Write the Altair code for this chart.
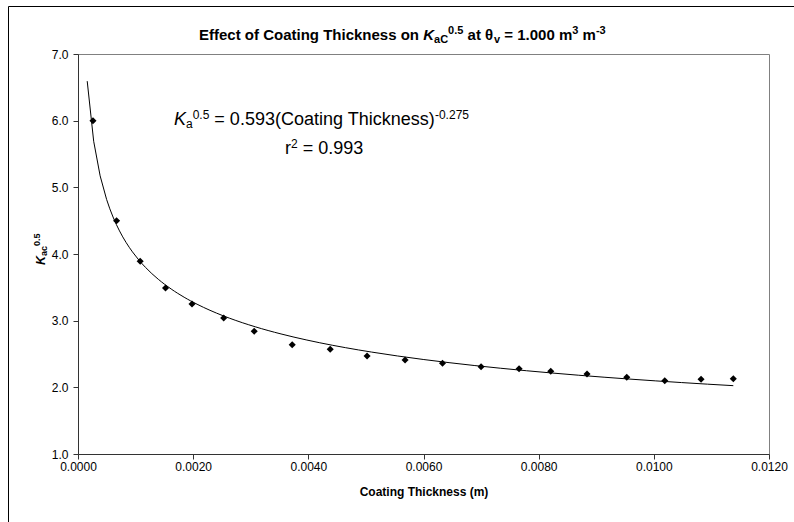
import altair as alt
import pandas as pd

# ---- data ----
coating_thickness_m = [0.00026, 0.00067, 0.00108, 0.00152, 0.00198, 0.00253, 0.00306,
                       0.00372, 0.00438, 0.00502, 0.00568, 0.00633, 0.00700, 0.00766,
                       0.00821, 0.00884, 0.00953, 0.01019, 0.01082, 0.01138]
k_ac_05 = [6.00, 4.50, 3.89, 3.49, 3.25, 3.04, 2.84, 2.64, 2.57, 2.47,
           2.41, 2.36, 2.31, 2.28, 2.24, 2.20, 2.15, 2.10, 2.12, 2.13]
trend_extent = [0.00016, 0.01138]
x_ticks = [0.0, 0.002, 0.004, 0.006, 0.008, 0.010, 0.012]
y_ticks = [1, 2, 3, 4, 5, 6, 7]

df = pd.DataFrame({"x": coating_thickness_m, "y": k_ac_05})

FONT = "Liberation Sans"
PLOT_LEFT, PLOT_TOP = 78, 54
W, H = 691, 400

REG = {' ': 278, '(': 333, ')': 333, '-': 333, '.': 278, '=': 584, 'C': 722, 'K': 667,
       'T': 611, 'a': 556, 'c': 500, 'e': 556, 'g': 556, 'h': 556, 'i': 222, 'k': 500,
       'n': 556, 'o': 556, 'r': 333, 's': 500, 't': 278, 'm': 833, 'v': 500, 'E': 667, 'f': 278}
BOLD = {' ': 278, '(': 333, ')': 333, '-': 333, '.': 278, '=': 584, 'C': 722, 'E': 667,
        'K': 722, 'T': 611, 'a': 556, 'c': 556, 'e': 556, 'f': 333, 'g': 611, 'h': 611,
        'i': 278, 'k': 556, 'm': 889, 'n': 611, 'o': 611, 's': 556, 't': 333, 'v': 556,
        'θ': 600}


def text_width(s, size, bold):
    table = BOLD if bold else REG
    return sum(table.get(ch, 556) for ch in s) * size / 1000.0


one_row = pd.DataFrame({"_": [0]})


def run_layers(runs, start, base, angle=0):
    """runs: (text, size, bold, italic, shift). Horizontal if angle==0, else rotated 270."""
    layers = []
    pos = start
    sgn = 1 if angle == 0 else -1
    for text, size, bold, italic, shift in runs:
        body = text.strip(" ")
        lead = len(text) - len(text.lstrip(" "))
        trail = len(text) - len(text.rstrip(" "))
        sp = text_width(" ", size, bold)
        pos += sgn * lead * sp
        if angle == 0:
            px, py = pos, base + shift
        else:
            px, py = base + shift, pos
        layers.append(
            alt.Chart(one_row).mark_text(
                text=body, font=FONT, fontSize=size,
                fontWeight="bold" if bold else "normal",
                fontStyle="italic" if italic else "normal",
                align="left", baseline="alphabetic", angle=angle, color="black",
            ).encode(x=alt.value(px - PLOT_LEFT), y=alt.value(py - PLOT_TOP))
        )
        pos += sgn * (text_width(body, size, bold) + trail * sp)
    return layers


title_runs = [
    ("Effect of Coating Thickness on ", 15, True, False, 0),
    ("K", 15, True, True, 0),
    ("aC", 11, True, False, 3),
    ("0.5", 11, True, False, -6),
    (" at ", 15, True, False, 0),
    ("θ", 15, True, False, 0),
    ("v", 11, True, False, 3),
    (" = 1.000 m", 15, True, False, 0),
    ("3", 11, True, False, -6),
    (" m", 15, True, False, 0),
    ("-3", 11, True, False, -6),
]
eq_runs = [
    ("K", 18, False, True, 0),
    ("a", 12, False, False, 2.5),
    ("0.5", 12, False, False, -6.5),
    (" = 0.593(Coating Thickness)", 18, False, False, 0),
    ("-0.275", 12, False, False, -6.5),
]
r2_runs = [
    ("r", 18, False, False, 0),
    ("2", 12, False, False, -6.5),
    (" = 0.993", 18, False, False, 0),
]
ytitle_runs = [
    ("K", 12.5, True, True, 0),
    ("ac", 9, True, False, 2),
    ("0.5", 9, True, False, -5.5),
]

texts = (run_layers(title_runs, 199, 40)
         + run_layers(eq_runs, 174, 125)
         + run_layers(r2_runs, 285, 154)
         + run_layers(ytitle_runs, 265, 45, angle=270))

frame = alt.Chart(one_row).mark_rect(
    fill="white", fillOpacity=0, stroke="black", strokeWidth=1
).encode(
    x=alt.value(8.5 - PLOT_LEFT), x2=alt.value(820 - PLOT_LEFT),
    y=alt.value(6.5 - PLOT_TOP), y2=alt.value(540 - PLOT_TOP),
)

x_enc = alt.X(
    "x:Q",
    scale=alt.Scale(domain=[0, 0.012], nice=False, zero=False),
    axis=alt.Axis(values=x_ticks, format=".4f", title="Coating Thickness (m)",
                  grid=False, tickSize=5, labelPadding=2, titlePadding=14,
                  labelFont=FONT, labelFontSize=12, labelColor="black",
                  titleFont=FONT, titleFontSize=12, titleFontWeight="bold",
                  titleColor="black", domainColor="#333333", tickColor="#333333",
                  labelFlush=False),
)
y_enc = alt.Y(
    "y:Q",
    scale=alt.Scale(domain=[1, 7], nice=False, zero=False),
    axis=alt.Axis(values=y_ticks, format=".1f", title=None, grid=False,
                  tickSize=5, labelPadding=5, labelFont=FONT, labelFontSize=12,
                  labelColor="black", domainColor="#333333", tickColor="#333333",
                  labelFlush=False),
)

points = alt.Chart(df).mark_point(
    shape="diamond", filled=True, color="black", size=50, opacity=1
).encode(x=x_enc, y=y_enc)

trend = alt.Chart(df).transform_regression(
    "x", "y", method="pow", extent=trend_extent
).mark_line(color="black", strokeWidth=1).encode(x="x:Q", y="y:Q")

chart = alt.layer(frame, trend, points, *texts).properties(
    width=W, height=H,
    autosize=alt.AutoSizeParams(type="none"),
    padding={"left": PLOT_LEFT, "top": PLOT_TOP, "right": 794 - PLOT_LEFT - W,
             "bottom": 522 - PLOT_TOP - H},
    background="white",
).configure_view(stroke="#808080", strokeWidth=1)

chart.save("out.html", embed_options={"renderer": "svg", "actions": False})
